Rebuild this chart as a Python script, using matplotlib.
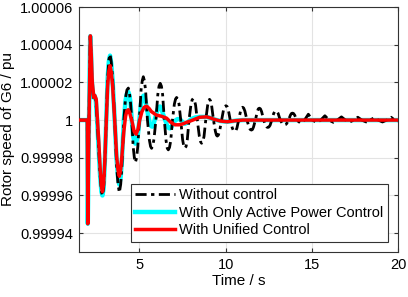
import matplotlib
matplotlib.use('Agg')
import matplotlib.pyplot as plt
import numpy as np

plt.rcParams['font.family'] = ['Liberation Sans', 'DejaVu Sans']

# deviations, in units of 1e-5 pu
t_nc = [1.5, 1.98, 2.01, 2.08, 2.15, 2.20, 2.25, 2.33, 2.40, 2.47, 2.55, 2.62, 2.72, 2.80,
        2.86, 2.93, 3.00, 3.08, 3.16, 3.23, 3.30, 3.37, 3.45, 3.57, 3.68, 3.76, 3.84, 3.92,
        3.99, 4.10, 4.20, 4.28, 4.36, 4.43, 4.49, 4.56, 4.64, 4.71, 4.77, 4.84, 4.91, 5.00,
        5.10, 5.17, 5.23, 5.29, 5.36, 5.47, 5.58, 5.65, 5.71, 5.78, 5.85, 5.96, 6.07, 6.14,
        6.21, 6.28, 6.35, 6.45, 6.55, 6.62, 6.68, 6.75, 6.82, 6.92, 7.03, 7.10, 7.16, 7.23,
        7.30, 7.40, 7.51, 7.58, 7.64, 7.71, 7.78, 7.88, 7.99, 8.06, 8.12, 8.19, 8.26, 8.36,
        8.48, 8.55, 8.61, 8.68, 8.75, 8.85, 8.96, 9.02, 9.07, 9.13, 9.19, 9.30,
        9.41, 9.47, 9.52, 9.58, 9.65, 9.77, 9.88, 9.95, 10.02, 10.09, 10.16, 10.27,
        10.39, 10.46, 10.53, 10.60, 10.66, 10.76, 10.87, 10.93, 10.99, 11.05, 11.12, 11.24,
        11.36, 11.43, 11.50, 11.56, 11.62, 11.73, 11.84, 11.90, 11.96, 12.02, 12.09, 12.21,
        12.32, 12.39, 12.45, 12.51, 12.58, 12.68, 12.79, 12.86, 12.92, 12.98, 13.05, 13.17,
        13.29, 13.36, 13.42, 13.48, 13.55, 13.65, 13.76, 13.82, 13.88, 13.94, 14.01, 14.12,
        14.37, 14.58, 14.80, 15.04, 15.29, 15.52, 15.76, 16.00, 16.25, 16.48, 16.72, 16.95,
        17.20, 17.44, 17.67, 17.90, 18.15, 18.38, 18.62, 18.85, 19.10, 19.35, 19.60, 19.80,
        20.0]
v_nc = [0, 0, -5.5, 0, 4.45, 3.5, 2.0, 1.2, 1.3, 1.1, 0, -1.2, -2.9, -3.8,
        -4.0, -3.6, -2.2, 0, 2.2, 3.2, 3.5, 3.1, 2.2, 0, -2.4, -3.4, -3.85, -3.4,
        -2.4, 0, 1.2, 1.6, 1.7, 1.4, 0.9, 0, -1.4, -2.0, -2.25, -2.0, -1.4, 0,
        1.6, 2.1, 2.3, 2.1, 1.6, 0, -1.05, -1.4, -1.5, -1.35, -1.0, 0, 1.35, 1.8,
        1.95, 1.8, 1.35, 0, -1.1, -1.5, -1.58, -1.45, -1.1, 0, 0.85, 1.12, 1.2, 1.1,
        0.85, 0, -1.05, -1.4, -1.49, -1.4, -1.05, 0, 0.8, 1.07, 1.14, 1.07, 0.8, 0,
        -0.87, -1.15, -1.23, -1.15, -0.87, 0, 0.78, 1.02, 1.1, 1.02, 0.78, 0,
        -0.6, -0.8, -0.85, -0.8, -0.6, 0, 0.54, 0.72, 0.76, 0.72, 0.54, 0,
        -0.42, -0.56, -0.6, -0.56, -0.42, 0, 0.48, 0.64, 0.68, 0.64, 0.48, 0,
        -0.37, -0.5, -0.53, -0.5, -0.37, 0, 0.45, 0.6, 0.63, 0.6, 0.45, 0,
        -0.28, -0.37, -0.39, -0.37, -0.28, 0, 0.35, 0.46, 0.49, 0.46, 0.35, 0,
        -0.18, -0.24, -0.26, -0.24, -0.18, 0, 0.26, 0.35, 0.37, 0.35, 0.26, 0,
        -0.17, 0, 0.31, 0, -0.13, 0, 0.23, 0, -0.12, 0, 0.17, 0,
        -0.1, 0, 0.15, 0, -0.1, 0, 0.12, 0, -0.1, 0, 0.15, 0,
        -0.05]

t_ap = [1.5, 1.98, 2.01, 2.08, 2.15, 2.20, 2.25, 2.33, 2.40, 2.47, 2.55, 2.62, 2.72, 2.80,
        2.86, 2.93, 3.00, 3.08, 3.16, 3.23, 3.30, 3.37, 3.45, 3.57, 3.68, 3.76, 3.84, 3.92,
        3.99, 4.10, 4.20, 4.28, 4.36, 4.43, 4.49, 4.56, 4.64, 4.71, 4.77, 4.84, 4.91, 5.00,
        5.10, 5.18, 5.25, 5.32, 5.40, 5.50, 5.60, 5.68, 5.75, 5.83, 5.90, 5.97, 6.07, 6.14,
        6.20, 6.28, 6.36, 6.50, 6.62, 6.70, 6.77, 6.85, 6.95, 7.05, 7.20, 7.35, 7.50, 7.64,
        7.80, 8.00, 8.25, 8.50, 8.90, 9.10, 9.30, 9.70, 10.1, 10.6, 11.0, 20.0]
v_ap = [0, 0, -5.5, 0, 4.45, 3.5, 2.0, 1.2, 1.3, 1.1, 0, -1.2, -2.9, -3.8,
        -4.0, -3.6, -2.2, 0, 2.2, 3.1, 3.42, 3.0, 2.1, 0, -2.1, -3.0, -3.42, -3.0,
        -2.1, 0, 1.05, 1.4, 1.49, 1.3, 0.9, 0, -0.85, -1.15, -1.25, -1.1, -0.8, 0,
        0.9, 1.22, 1.3, 1.15, 0.8, 0.3, -0.15, -0.32, -0.35, -0.2, 0.05, 0.3, 0.6, 0.7,
        0.72, 0.6, 0.35, 0, -0.32, -0.42, -0.44, -0.38, -0.2, -0.05, 0.05, 0.05, -0.1, -0.2,
        -0.12, 0.05, 0.14, 0.17, 0.17, 0.12, 0.05, -0.05, -0.09, -0.03, 0, 0]

t_uc = [1.5, 1.98, 2.01, 2.08, 2.16, 2.21, 2.27, 2.36, 2.42, 2.50, 2.57, 2.65, 2.74, 2.81,
        2.86, 2.93, 3.00, 3.08, 3.16, 3.23, 3.30, 3.37, 3.45, 3.57, 3.68, 3.76, 3.84, 3.92,
        3.99, 4.10, 4.20, 4.28, 4.36, 4.45, 4.58, 4.70, 4.81, 4.92, 5.02, 5.15, 5.28, 5.42,
        5.56, 5.70, 6.00, 6.30, 6.58, 6.80, 7.06, 7.30, 7.53, 7.80, 8.10, 8.50, 8.90, 9.10,
        9.30, 9.70, 10.1, 10.6, 11.0, 20.0]
v_uc = [0, 0, -5.5, 0, 4.47, 3.5, 2.0, 1.2, 1.3, 1.1, 0, -1.2, -2.8, -3.6,
        -3.8, -3.4, -2.1, -0.1, 1.8, 2.6, 2.89, 2.55, 1.8, 0, -1.9, -2.65, -2.98, -2.6,
        -1.9, -0.6, 0.2, 0.5, 0.55, 0.35, -0.1, -0.6, -0.75, -0.5, 0, 0.45, 0.68, 0.74,
        0.62, 0.45, 0.26, 0.2, 0.1, -0.1, -0.25, -0.25, -0.2, -0.1, 0, 0.15, 0.17, 0.12,
        0.05, -0.05, -0.09, -0.03, 0, 0]

labels = ['Without control', 'With Only Active Power Control', 'With Unified Control']
y_ticks = [0.99994, 0.99996, 0.99998, 1.0, 1.00002, 1.00004, 1.00006]
y_ticklabels = ['0.99994', '0.99996', '0.99998', '1', '1.00002', '1.00004', '1.00006']
x_ticks = [5, 10, 15, 20]

fig = plt.figure(figsize=(4.08, 2.97), dpi=100)
ax = fig.add_axes([79/408, 45/297, 319/408, 245/297])

ax.plot(t_nc, 1 + np.array(v_nc) * 1e-5, color='black', lw=2.0, dashes=[4, 1.6, 1.2, 1.6],
        zorder=3, label=labels[0])
ax.plot(t_ap, 1 + np.array(v_ap) * 1e-5, color='#00ffff', lw=3.2, zorder=2, label=labels[1])
ax.plot(t_uc, 1 + np.array(v_uc) * 1e-5, color='red', lw=2.5, zorder=4, label=labels[2])

ax.set_xlim(1.5, 20)
ax.set_ylim(0.99993, 1.00006)
ax.set_xticks(x_ticks)
ax.set_yticks(y_ticks)
ax.set_yticklabels(y_ticklabels)
ax.grid(True, color='#e3e3e3', lw=0.8)
ax.set_axisbelow(True)
ax.tick_params(direction='in', top=True, right=True, labelsize=10.5, length=3,
               color='#333333', pad=4)
for s in ax.spines.values():
    s.set_color('#333333')
    s.set_linewidth(0.8)

ax.set_xlabel('Time / s', fontsize=11, labelpad=2)
ax.set_ylabel('Rotor speed of G6 / pu', fontsize=11, labelpad=4)

leg = ax.legend(loc='lower right', fontsize=10.5, fancybox=False, framealpha=1,
                edgecolor='#333333', handlelength=2.7, handletextpad=0.3,
                labelspacing=0.25, borderaxespad=0.7, borderpad=0.3)
leg.get_frame().set_linewidth(0.8)

fig.savefig('out.png', dpi=100)
